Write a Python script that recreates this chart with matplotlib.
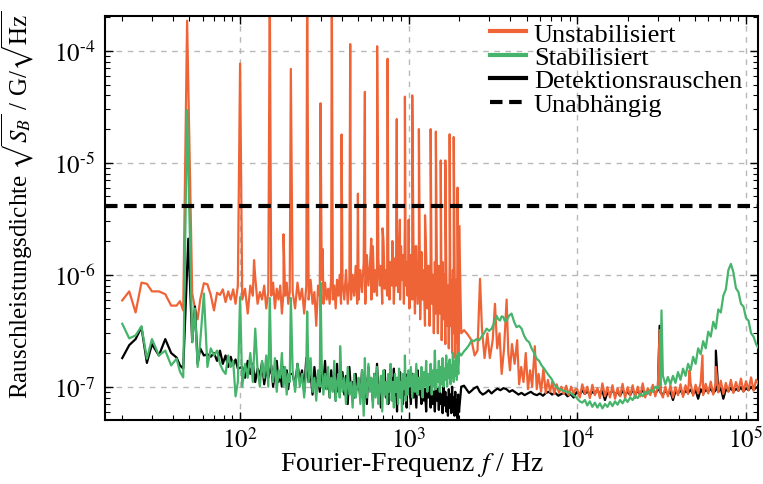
import numpy as np
import matplotlib
matplotlib.use("Agg")
import matplotlib.pyplot as plt
from matplotlib.ticker import LogLocator, FuncFormatter, NullFormatter

plt.rcParams['font.family'] = ['Liberation Serif', 'DejaVu Serif']
plt.rcParams['mathtext.fontset'] = 'stix'

unit = 1e-7   # all noise values below are in units of 1e-7 G/sqrt(Hz)

# ---- low band, 20 Hz .. 2 kHz (same bins for all three traces)
f_low = [20, 22, 24, 26, 28, 30, 33, 36, 39, 42, 44, 46,
         52, 54, 56, 58, 61, 64, 67, 70, 73, 76, 79, 82, 85, 88, 91, 94, 97,
         103, 107, 111, 115, 119, 123, 127, 131, 135, 139, 143, 147,
         153, 157, 161, 165, 169, 173, 177, 181, 185, 189, 193, 197,
         205, 212, 219, 226, 233, 240, 247, 255, 262, 269, 276, 283, 290, 297,
         305, 312, 319, 326, 333, 340, 347, 355, 362, 369, 376, 383, 390, 397,
         405, 415, 425, 435, 445, 455, 465, 475, 485, 495,
         505, 517, 529, 541, 553, 565, 577, 589, 601, 613, 625, 637, 649, 661,
         673, 685, 697, 709, 721, 733, 745, 757, 769, 781, 793, 805, 817, 829,
         841, 853, 865, 877, 889, 901, 913, 925, 937, 949, 961, 973, 985, 997,
         1010, 1030, 1050, 1070, 1090, 1110, 1130, 1150, 1170, 1190,
         1210, 1230, 1250, 1270, 1290, 1310, 1330, 1350, 1370, 1390,
         1410, 1430, 1450, 1470, 1490, 1510, 1530, 1550, 1570, 1590,
         1610, 1630, 1650, 1670, 1690, 1710, 1730, 1750, 1770, 1790,
         1810, 1830, 1850, 1870, 1890, 1910, 1930, 1950, 1970, 1990]

unstab_low = [5.9, 7.1, 4.6, 8.5, 8.3, 7.1, 7.1, 6.7, 5.3, 5.3, 5.8, 4.8,
              6.8, 5.0, 4.0, 6.0, 8.4, 8.2, 6.6, 4.8, 6.9, 6.6, 7.4, 5.7, 7.1, 6.0, 7.4, 5.5, 8.0,
              6.0, 7.5, 4.5, 8.0, 6.5, 9.5, 5.5, 7.0, 6.0, 8.0, 5.0, 7.0,
              6.5, 8.5, 5.0, 7.5, 6.0, 8.0, 4.5, 7.0, 6.5, 8.5, 5.5, 7.0,
              7.0, 5.0, 8.5, 6.0, 7.5, 4.5, 8.0, 6.0, 9.0, 5.5, 7.0, 3.5, 8.0, 6.5,
              9.0, 5.5, 8.5, 6.0, 7.5, 5.5, 9.5, 6.0, 8.0, 5.0, 9.0, 6.5, 10.0, 5.5,
              8.5, 6.0, 11.0, 5.5, 9.0, 6.0, 10.0, 6.5, 12.0, 5.5,
              6, 11, 7, 13, 5.5, 15, 8, 12, 6, 18, 7, 11, 6.5, 14,
              8, 12, 5.5, 20, 7.5, 11, 6.5, 15, 6, 13, 8, 17, 5.5, 14,
              8, 24, 7, 13, 6, 18, 9, 15, 5.5, 27, 8, 13, 6.5, 16,
              5, 15, 6, 12, 4.5, 18, 5.5, 13, 4, 16,
              6, 11, 3.5, 15, 5, 12, 3.5, 14, 5.5, 10,
              3, 13, 4.5, 11, 3, 12, 4.5, 9, 2.6, 13,
              4, 10, 2.4, 12, 3.5, 8, 2.2, 13, 3.5, 9,
              2, 11, 3, 15, 1.8, 9, 2.5, 13, 1.6, 10]

stab_low = [3.65, 2.7, 2.87, 3.47, 1.78, 2.66, 1.9, 2.1, 1.55, 1.78, 1.36, 1.21,
            2.5, 5.0, 1.5, 2.5, 6.8, 1.5, 2.2, 1.9, 2.1, 1.6, 1.4, 1.3, 1.9, 1.5, 1.7, 0.82, 1.1,
            1.0, 1.6, 1.2, 2.0, 1.1, 3.3, 1.4, 1.0, 1.7, 1.2, 1.9, 1.0,
            1.5, 1.1, 1.8, 0.9, 1.4, 1.2, 2.0, 1.0, 1.5, 0.85, 1.3, 1.1,
            1.4, 0.9, 1.6, 1.0, 1.3, 0.8, 1.5, 1.1, 1.8, 0.9, 1.2, 0.75, 1.4, 1.0,
            1.6, 0.85, 1.3, 0.95, 1.5, 0.8, 1.2, 0.9, 1.7, 0.75, 1.1, 1.3, 0.8, 1.4,
            0.9, 1.2, 0.7, 1.5, 0.85, 1.1, 0.65, 1.3, 0.8, 1.0,
            1.2, 0.7, 1.4, 0.55, 1.1, 0.8, 1.6, 0.9, 1.2, 0.65, 1.3, 0.8, 1.5, 0.7,
            1.0, 1.25, 0.6, 1.4, 0.85, 1.1, 0.7, 1.3, 0.9, 1.6, 0.75, 1.1, 0.65, 1.3,
            0.9, 1.2, 0.7, 1.45, 0.8, 1.1, 0.6, 1.3, 0.95, 1.5, 0.75, 1.2, 0.85, 1.4,
            1.0, 1.5, 0.8, 1.3, 0.9, 1.6, 0.85, 1.2, 0.95, 1.5,
            0.8, 1.35, 1.0, 1.7, 0.9, 1.3, 1.05, 1.6, 0.85, 1.4,
            1.0, 2.1, 0.95, 1.4, 1.1, 1.7, 0.9, 1.5, 1.05, 1.8,
            1.0, 1.45, 1.15, 1.9, 1.0, 1.6, 1.2, 1.75, 1.05, 1.55,
            1.2, 2.0, 1.1, 1.7, 1.25, 1.9, 1.15, 1.6, 1.3, 2.0]

det_low = [1.8, 2.35, 2.66, 3.4, 1.63, 2.4, 1.9, 2.66, 2.0, 1.82, 1.55, 1.45,
           2.5, 5.2, 1.6, 2.2, 1.9, 1.95, 1.85, 2.0, 1.7, 2.1, 1.6, 1.9, 1.5, 1.85, 1.55, 1.75, 1.45,
           1.5, 1.2, 1.7, 1.3, 1.6, 1.1, 1.45, 1.25, 1.65, 1.05, 1.4, 1.2,
           1.55, 1.0, 1.35, 1.7, 1.1, 1.3, 1.0, 1.5, 1.2, 1.4, 0.95, 1.3,
           1.3, 1.0, 1.6, 1.15, 1.4, 0.9, 1.8, 1.1, 1.3, 0.85, 1.5, 1.0, 1.25, 0.9,
           1.45, 1.05, 1.7, 0.95, 1.2, 0.8, 1.4, 1.0, 1.3, 0.75, 1.6, 0.9, 1.15, 1.0,
           1.35, 0.85, 1.25, 0.7, 1.5, 0.9, 1.1, 0.8, 1.3, 0.95,
           1.1, 0.8, 1.4, 0.9, 1.2, 0.7, 1.5, 0.95, 1.1, 0.75, 1.3, 0.85, 1.6, 0.9,
           1.0, 0.65, 1.25, 0.95, 1.4, 0.8, 1.1, 0.7, 1.3, 1.0, 1.2, 0.75, 1.45, 0.85,
           1.05, 0.6, 1.2, 0.9, 1.35, 0.8, 1.0, 0.7, 1.25, 0.85, 1.1, 0.65, 1.3, 0.9,
           1.0, 0.7, 1.3, 0.8, 1.1, 0.65, 1.4, 0.85, 1.0, 0.7,
           1.2, 0.75, 0.95, 0.6, 1.25, 0.8, 1.0, 0.65, 1.1, 0.7,
           0.9, 0.6, 1.15, 0.75, 0.95, 0.62, 1.0, 0.7, 0.85, 0.58,
           1.05, 0.68, 0.9, 0.6, 0.8, 0.55, 0.95, 0.65, 0.85, 0.58,
           1.0, 0.6, 0.8, 0.55, 0.9, 0.62, 0.75, 0.52, 0.85, 0.6]

# ---- mid band, 2 kHz .. 10 kHz
f_mid_unstab = [2050, 2130, 2250, 2360, 2460, 2560, 2650, 2720, 2820, 2930,
                3030, 3150, 3250, 3350, 3460, 3560, 3680, 3810, 3900, 3990,
                4100, 4250, 4400, 4520, 4650, 4800, 4950, 5100, 5250, 5400,
                5600, 5750, 5900, 6100, 6300, 6500, 6700, 6900, 7100, 7300,
                7550, 7800, 8050, 8300, 8600, 8900, 9200, 9500, 9750]
unstab_mid = [3.0, 3.2, 2.9, 2.6, 1.9, 2.1, 9.2, 3.3, 1.8, 3.0,
              1.8, 2.6, 5.5, 2.2, 3.0, 1.3, 2.2, 6.0, 2.0, 1.4,
              2.4, 1.6, 2.6, 1.05, 1.5, 1.1, 2.0, 0.95, 1.4, 1.0,
              2.3, 0.95, 1.3, 0.9, 1.45, 0.88, 1.15, 0.9, 1.1, 0.86,
              1.05, 0.88, 1.0, 0.86, 1.02, 0.84, 1.0, 0.86, 0.95]

f_mid_stab = [2050, 2120, 2206, 2280, 2362, 2440, 2530, 2620, 2710, 2800,
              2900, 3000, 3105, 3210, 3325, 3400, 3480, 3560, 3640, 3720,
              3810, 3940, 4075, 4220, 4365, 4520, 4675, 4840, 5010, 5180,
              5360, 5550, 5740, 5940, 6140, 6360, 6580, 6810, 7050, 7300,
              7540, 7900, 8260, 8640, 9040, 9460, 9900]
stab_mid = [1.9, 2.05, 2.2, 2.35, 2.6, 2.55, 2.66, 2.6, 2.8, 3.0,
            3.3, 3.15, 3.3, 3.7, 4.3, 4.0, 3.9, 4.25, 4.2, 3.85,
            3.9, 4.3, 4.5, 3.8, 3.4, 3.5, 3.3, 2.85, 2.6, 2.5,
            2.2, 2.0, 1.78, 1.7, 1.55, 1.45, 1.34, 1.25, 1.17, 1.05,
            0.99, 0.95, 0.92, 0.9, 0.89, 0.84, 0.8]

f_mid_det = [2050, 2130, 2200, 2280, 2360, 2450, 2550, 2640, 2750, 2860,
             2980, 3100, 3230, 3360, 3500, 3650, 3800, 3960, 4120, 4300,
             4480, 4670, 4870, 5080, 5300, 5520, 5760, 6000, 6260, 6520,
             6800, 7090, 7400, 7720, 8050, 8400, 8760, 9130, 9520, 9800]
det_mid = [1.0, 1.02, 0.95, 0.88, 0.92, 0.97, 1.0, 0.9, 0.85, 0.88,
           0.93, 0.87, 0.92, 0.96, 0.93, 0.97, 0.95, 0.9, 0.93, 0.89,
           0.85, 0.88, 0.84, 0.87, 0.9, 0.86, 0.84, 0.87, 0.83, 0.88,
           0.9, 0.85, 0.88, 0.83, 0.86, 0.88, 0.82, 0.86, 0.8, 0.87]

# ---- high band, 10 kHz .. 120 kHz (same bins for all three traces)
f_high = [10000, 10350, 10710, 11090, 11470, 11870, 12290, 12720, 13170, 13630,
          14100, 14600, 15110, 15640, 16180, 16750, 17340, 17940, 18570, 19220,
          19890, 20590, 21310, 22050, 22830, 23630, 24450, 25310, 26190, 27110,
          28060, 29040, 30060, 31110, 32200, 33330, 34490, 35700, 36950, 38240,
          39580, 40970, 42400, 43880, 45420, 47010, 48660, 50360, 52120, 53950,
          55840, 57790, 59810, 61910, 64070, 66320, 68640, 71040, 73530, 76100,
          78760, 81520, 84370, 87330, 90380, 93550, 96820, 100200, 103700, 107400,
          111100, 115000, 119000]
unstab_high = [0.95, 0.8, 1.05, 0.86, 1.0, 0.79, 1.04, 0.84, 0.97, 0.79,
               1.07, 0.82, 0.99, 0.8, 1.03, 0.78, 0.97, 0.82, 1.06, 0.79,
               0.99, 0.83, 1.03, 0.79, 1.0, 0.82, 1.07, 0.8, 0.97, 0.84,
               1.04, 0.82, 1.0, 0.9, 0.8, 1.0, 0.82, 1.03, 0.8, 0.99,
               0.84, 1.05, 0.81, 1.03, 0.86, 1.07, 0.83, 1.04, 0.87, 1.09,
               0.84, 1.06, 0.87, 1.11, 0.85, 1.09, 0.89, 1.13, 0.86, 1.08,
               0.9, 1.15, 0.88, 1.1, 0.92, 1.18, 0.9, 1.12, 0.93, 1.21,
               0.92, 1.15, 1.05]
stab_high = [0.78, 0.74, 0.72, 0.76, 0.68, 0.74, 0.66, 0.72, 0.65, 0.71,
             0.64, 0.7, 0.66, 0.73, 0.67, 0.74, 0.69, 0.76, 0.71, 0.78,
             0.73, 0.8, 0.76, 0.83, 0.79, 0.86, 0.82, 0.9, 0.86, 0.94,
             0.9, 1.0, 0.96, 1.05, 1.25, 1.05, 1.22, 1.05, 1.25, 1.08,
             1.35, 1.15, 1.45, 1.25, 1.6, 1.4, 1.85, 1.6, 2.2, 1.95,
             2.55, 2.2, 3.1, 2.8, 3.8, 3.3, 4.9, 4.6, 6.5, 7.4,
             11.0, 12.5, 10.5, 7.6, 7.0, 5.5, 5.2, 4.1, 3.9, 3.0,
             2.8, 2.4, 2.2]
det_high = [0.9, 0.85, 0.93, 0.86, 0.92, 0.84, 0.9, 0.87, 0.94, 0.85,
            0.91, 0.76, 0.89, 0.86, 0.93, 0.85, 0.9, 0.83, 0.92, 0.86,
            0.9, 0.84, 0.93, 0.87, 0.91, 0.85, 0.94, 0.86, 0.92, 0.88,
            0.95, 0.87, 0.93, 0.89, 0.85, 0.92, 0.86, 0.9, 0.76, 0.91,
            0.87, 0.93, 0.85, 0.92, 0.88, 0.94, 0.86, 0.93, 0.78, 0.95,
            0.87, 0.94, 0.9, 0.96, 0.88, 0.93, 0.9, 0.97, 0.78, 0.95,
            0.91, 0.98, 0.9, 0.96, 0.92, 0.99, 0.91, 0.97, 0.93, 1.0,
            0.94, 0.98, 1.0]

# ---- narrow lines (mains harmonics etc.), peak values
spike_f_unstab = [48.5, 100, 121, 150, 181, 200, 250, 300, 309, 350, 400, 450, 500,
                  550, 600, 650, 700, 750, 800, 850, 887, 950, 1000, 1050, 1100,
                  1150, 1250, 1350, 1450, 1550, 1650, 1750, 1850, 1950, 1995,
                  30800, 46400, 55300, 66400]
spike_unstab = [1860, 770, 13.5, 4000, 23, 690, 4000, 340, 17, 4000, 179, 1150, 53,
                430, 21, 1100, 26, 850, 20, 246, 31, 390, 31, 400, 18,
                200, 34, 200, 190, 105, 105, 180, 170, 60, 27,
                3.2, 1.4, 1.9, 1.5]
spike_f_stab = [48.5, 100, 150, 200, 250, 300, 392, 550, 950, 31600]
spike_stab = [297, 6.3, 6.2, 6.2, 4.7, 8.5, 2.3, 1.8, 1.9, 4.8]
spike_f_det = [49.3, 30800, 66400]
spike_det = [21, 3.5, 2.1]

indep_level = 4.1e-6
f_split = 2000


def trace(parts):
    f = np.concatenate([np.asarray(p[0], float) for p in parts])
    v = np.concatenate([np.asarray(p[1], float) for p in parts]) * unit
    order = np.argsort(f, kind='stable')
    f, v = f[order], v[order]
    k = np.searchsorted(f, f_split, side='right')
    return (f[:k], v[:k]), (f[k - 1:], v[k - 1:])


u_lo, u_hi = trace([(f_low, unstab_low), (f_mid_unstab, unstab_mid),
                    (f_high, unstab_high), (spike_f_unstab, spike_unstab)])
s_lo, s_hi = trace([(f_low, stab_low), (f_mid_stab, stab_mid),
                    (f_high, stab_high), (spike_f_stab, spike_stab)])
d_lo, d_hi = trace([(f_low, det_low), (f_mid_det, det_mid),
                    (f_high, det_high), (spike_f_det, spike_det)])

c_u = '#ee6437'
c_s = '#47b46b'
c_d = 'black'
lw = 1.6

fig = plt.figure(figsize=(7.63, 4.85), dpi=100)
ax = fig.add_axes([0.1376, 0.132, 0.8558, 0.833])

ax.plot(*u_lo, color=c_u, lw=lw, zorder=2, label='Unstabilisiert')
ax.plot(*d_lo, color=c_d, lw=lw, zorder=3, label='Detektionsrauschen')
ax.plot(*s_lo, color=c_s, lw=lw, zorder=4, label='Stabilisiert')
ax.plot(*d_hi, color=c_d, lw=lw, zorder=2)
ax.plot(*u_hi, color=c_u, lw=lw, zorder=3)
ax.plot(*s_hi, color=c_s, lw=lw, zorder=4)
ax.axhline(indep_level, color='black', lw=3, ls=(0, (3, 1.6)), zorder=5,
           label='Unabhängig')

ax.set_xscale('log')
ax.set_yscale('log')
ax.set_xlim(15.8, 1.18e5)
ax.set_ylim(5.04e-8, 2.05e-4)


def pow_label(v, pos):
    n = int(round(np.log10(v)))
    if n < 0:
        return '$10^{\u2010%d}$' % (-n)
    return '$10^{%d}$' % n


for axis in (ax.xaxis, ax.yaxis):
    axis.set_major_locator(LogLocator(base=10, numticks=20))
    axis.set_minor_locator(LogLocator(base=10, subs=np.arange(2, 10), numticks=100))
    axis.set_major_formatter(FuncFormatter(pow_label))
    axis.set_minor_formatter(NullFormatter())

ax.tick_params(which='both', direction='in', top=True, right=True)
ax.tick_params(which='major', length=6, width=1.0, labelsize=18)
ax.tick_params(which='minor', length=3.5, width=0.8)
ax.tick_params(axis='x', pad=5)
ax.tick_params(axis='y', pad=7)
for sp in ax.spines.values():
    sp.set_linewidth(1.5)

ax.set_axisbelow(True)
ax.grid(True, which='major', ls=(0, (4, 4)), color='#b8b8b8', lw=1.0)

ax.set_xlabel(r'Fourier-Frequenz $f$ / Hz', fontsize=20)
ax.set_ylabel(r'Rauschleistungsdichte $\sqrt{S_B}$ / G/$\sqrt{\mathrm{Hz}}$', fontsize=18)
ax.xaxis.set_label_coords(0.47, -0.075)
ax.yaxis.set_label_coords(-0.106, 0.535)

h, l = ax.get_legend_handles_labels()
order = [l.index(s) for s in ['Unstabilisiert', 'Stabilisiert', 'Detektionsrauschen', 'Unabhängig']]
leg = ax.legend([h[i] for i in order], [l[i] for i in order],
                loc='upper left', bbox_to_anchor=(0.59, 0.985), frameon=False,
                fontsize=19, handlelength=1.35, handletextpad=0.3, labelspacing=0.0,
                borderpad=0, borderaxespad=0)
for line in leg.get_lines():
    line.set_linewidth(3)

fig.savefig('out.png', dpi=100)
